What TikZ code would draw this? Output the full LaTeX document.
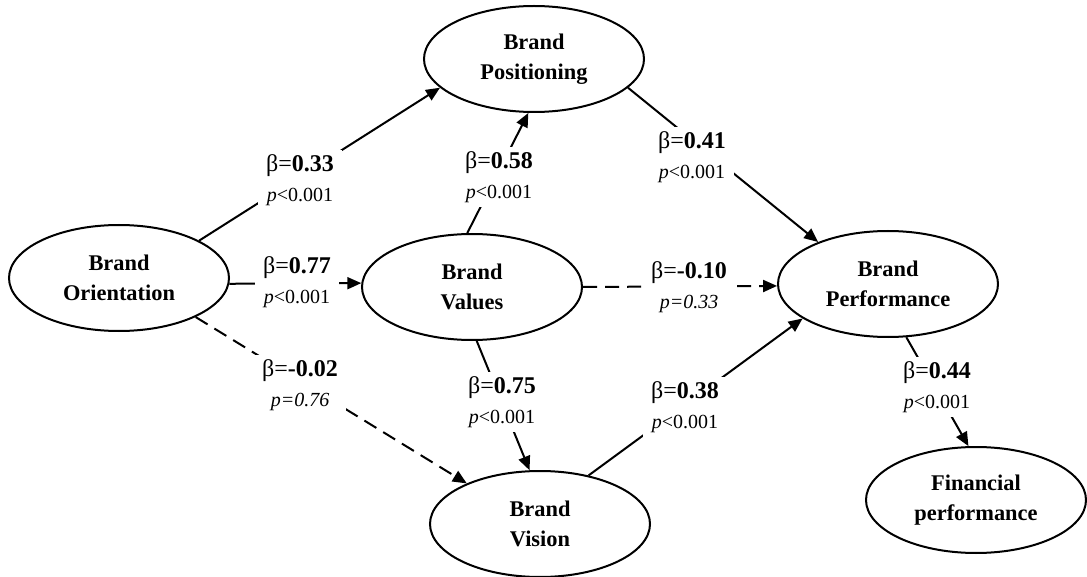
\documentclass[tikz,border=0pt]{standalone}
\usepackage{fontspec}
\setmainfont{Liberation Serif}
\usetikzlibrary{shapes.geometric,arrows.meta}

\begin{document}
\begin{tikzpicture}[x=0.5pt, y=-0.5pt,
        construct/.style={draw, ellipse, line width=1pt, minimum width=110pt, minimum height=53pt, inner sep=0pt, align=center, font=\fontsize{11.2}{15}\selectfont\bfseries},
        effect/.style={line width=1pt, -{Triangle[length=7pt, width=6pt]}},
        nonsig/.style={effect, dash pattern=on 7pt off 4pt},
        coef/.style={fill=white, inner xsep=4pt, inner ysep=2pt, align=center, font=\fontsize{12}{15}\selectfont}]
        \useasboundingbox (0, 0) rectangle (1087, 577);
        % constructs
        \node[construct] (ori) at (119, 278) {Brand\\Orientation};
        \node[construct] (pos) at (534, 59) {Brand\\Positioning};
        \node[construct] (val) at (472, 287) {Brand\\Values};
        \node[construct] (perf) at (888, 284) {Brand\\Performance};
        \node[construct] (vis) at (540, 524) {Brand\\Vision};
        \node[construct] (fin) at (976, 500) {Financial\\performance};
        % paths
        \draw[effect] (ori.25) -- (pos.197);
        \draw[effect] (ori.-3) -- (val.178);
        \draw[nonsig] (ori.333) -- (vis.151);
        \draw[effect] (val.95) -- (pos.264);
        \draw[effect] (val.275) -- (vis.101);
        \draw[effect] (pos.343) -- (perf.149);
        \draw[nonsig] (val.east) -- (perf.181);
        \draw[effect] (vis.45) -- (perf.202);
        \draw[effect] (perf.289) -- (fin.98);
        % coefficients
        \node[coef] (c33) at (300, 180) {β=\textbf{0.33}\\{\fontsize{10}{12}\selectfont\textit{p}<0.001}};
        \node[coef] (c77) at (297, 282) {β=\textbf{0.77}\\{\fontsize{10}{12}\selectfont\textit{p}<0.001}};
        \node[coef] (c02) at (300, 385) {β=\textbf{-0.02}\\{\fontsize{10}{12}\selectfont\textit{p=0.76}}};
        \node[coef] (c58) at (499, 177) {β=\textbf{0.58}\\{\fontsize{10}{12}\selectfont\textit{p}<0.001}};
        \node[coef] (c75) at (502, 402) {β=\textbf{0.75}\\{\fontsize{10}{12}\selectfont\textit{p}<0.001}};
        \node[coef] (c41) at (692, 157) {β=\textbf{0.41}\\{\fontsize{10}{12}\selectfont\textit{p}<0.001}};
        \node[coef] (c10) at (689, 287) {β=\textbf{-0.10}\\{\fontsize{10}{12}\selectfont\textit{p=0.33}}};
        \node[coef] (c38) at (685, 407) {β=\textbf{0.38}\\{\fontsize{10}{12}\selectfont\textit{p}<0.001}};
        \node[coef] (c44) at (937, 387) {β=\textbf{0.44}\\{\fontsize{10}{12}\selectfont\textit{p}<0.001}};
\end{tikzpicture}
\end{document}
